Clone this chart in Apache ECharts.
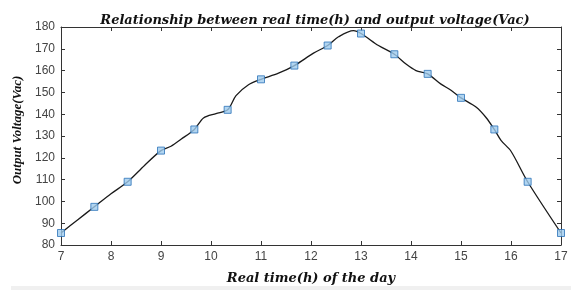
<!DOCTYPE html>
<html>
<head>
<meta charset="utf-8">
<script src="https://cdn.jsdelivr.net/npm/echarts@6/dist/echarts.min.js"></script>
<style>
  html, body { margin: 0; padding: 0; background: #fff; }
  #chart { width: 571px; height: 290px; }
</style>
</head>
<body>
<div id="chart"></div>
<script>
// marker points (every 40 min)
const markerTimes = [7, 7.667, 8.333, 9, 9.667, 10.333, 11, 11.667, 12.333, 13, 13.667, 14.333, 15, 15.667, 16.333, 17]
const markerVolts = [85.5, 97.5, 109, 123.3, 133, 142, 156, 162.3, 171.5, 177, 167.5, 158.5, 147.5, 133, 109, 85.5]

// traced curve between markers
const curveTimes = [7, 7.33, 7.667, 8, 8.333, 8.67, 9, 9.2, 9.4, 9.667, 9.85, 10.1, 10.333, 10.5, 10.75, 11, 11.35, 11.667,
  12.05, 12.333, 12.55, 12.85, 13, 13.35, 13.667, 13.9, 14.1, 14.333, 14.6, 14.8, 15, 15.3, 15.5, 15.667, 15.8, 16, 16.333, 17]
const curveVolts = [85.5, 91.5, 97.5, 103.5, 109, 116.5, 123.3, 125.3, 128.5, 133, 138.3, 140.3, 142, 148.5, 153.5, 156, 158.8, 162.3,
  168, 171.5, 175.5, 178.3, 177, 171.5, 167.5, 163, 160, 158.5, 153.8, 151, 147.5, 143.3, 138.5, 133, 128, 123, 109, 85.5]

const xTicks = { min: 7, max: 17, interval: 1 }
const yTicks = { min: 80, max: 180, interval: 10 }

const titleText = 'Relationship between real time(h) and output voltage(Vac)'
const xName = 'Real time(h) of the day'
const yName = 'Output Voltage(Vac)'

const wideBI = { fontFamily: '"DejaVu Serif", serif', fontWeight: 'bold', fontStyle: 'italic', color: '#111' }
const serifBI = { fontFamily: '"Liberation Serif", "Times New Roman", serif', fontWeight: 'bold', fontStyle: 'italic', color: '#111' }
const axisLineStyle = { color: '#333', width: 1 }
const tickFont = { color: '#444', fontSize: 12, fontFamily: '"Liberation Sans", Arial, sans-serif', margin: 6 }

const chart = echarts.init(document.getElementById('chart'), null, { renderer: 'canvas' })

const pairs = (xs, ys) => xs.map((x, i) => [x, ys[i]])

chart.setOption({
  animation: false,
  backgroundColor: '#fff',
  title: {
    text: titleText,
    left: 310, top: 9, textAlign: 'center',
    textStyle: Object.assign({ fontSize: 13 }, wideBI)
  },
  grid: { left: 61, right: 10, top: 27, bottom: 42, containLabel: false },
  xAxis: [{
    type: 'value', min: xTicks.min, max: xTicks.max, interval: xTicks.interval,
    name: xName, nameLocation: 'middle', nameGap: 27,
    nameTextStyle: Object.assign({ fontSize: 13 }, wideBI),
    axisLine: { show: true, lineStyle: axisLineStyle },
    axisTick: { show: true, inside: true, length: 4, lineStyle: axisLineStyle },
    axisLabel: tickFont,
    splitLine: { show: false }
  }, {
    type: 'value', position: 'top', min: xTicks.min, max: xTicks.max, interval: xTicks.interval,
    axisLine: { show: true, lineStyle: axisLineStyle },
    axisTick: { show: true, inside: true, length: 4, lineStyle: axisLineStyle },
    axisLabel: { show: false }, splitLine: { show: false }
  }],
  yAxis: [{
    type: 'value', min: yTicks.min, max: yTicks.max, interval: yTicks.interval,
    name: yName, nameLocation: 'middle', nameGap: 36, nameRotate: 90,
    nameTextStyle: Object.assign({ fontSize: 13, padding: [0, 0, 0, 12] }, serifBI),
    axisLine: { show: true, lineStyle: axisLineStyle },
    axisTick: { show: true, inside: true, length: 4, lineStyle: axisLineStyle },
    axisLabel: tickFont,
    splitLine: { show: false }
  }, {
    type: 'value', position: 'right', min: yTicks.min, max: yTicks.max, interval: yTicks.interval,
    axisLine: { show: true, lineStyle: axisLineStyle },
    axisTick: { show: true, inside: true, length: 4, lineStyle: axisLineStyle },
    axisLabel: { show: false }, splitLine: { show: false }
  }],
  graphic: [{
    type: 'rect', left: 11, top: 286, silent: true,
    shape: { width: 560, height: 4 },
    style: { fill: '#f0f0f0' }
  }],
  series: [{
    type: 'line',
    data: pairs(curveTimes, curveVolts),
    smooth: 0.3,
    showSymbol: false,
    lineStyle: { color: '#1a1a1a', width: 1.3 },
    z: 2
  }, {
    type: 'scatter',
    data: pairs(markerTimes, markerVolts),
    symbol: 'rect',
    symbolSize: 7,
    itemStyle: { color: '#9ecbee', borderColor: '#2a72b8', borderWidth: 1 },
    z: 3
  }]
})
</script>
</body>
</html>
